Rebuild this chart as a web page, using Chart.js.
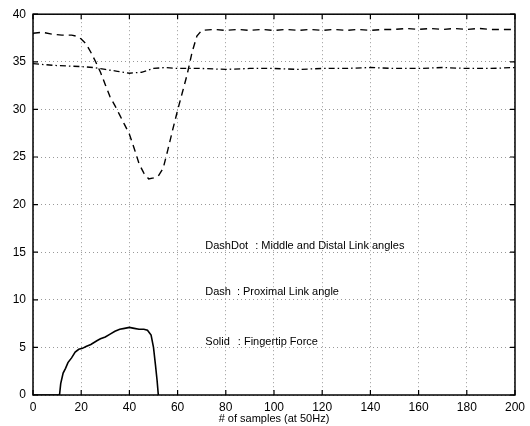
<!DOCTYPE html>
<html>
<head>
<meta charset="utf-8">
<script src="https://cdn.jsdelivr.net/npm/chart.js@4/dist/chart.umd.min.js"></script>
<style>
  html, body { margin: 0; padding: 0; background: #fff; }
  #wrap { width: 530px; height: 426px; }
</style>
</head>
<body>
<div id="wrap"><canvas id="out"></canvas></div>
<script>
// proximal link angle (dashed)
const proxX = [0, 4, 8, 12, 16, 18, 20, 22, 24, 26, 28, 30, 32, 34, 36, 38, 40, 42, 44, 46, 48, 50, 52, 54, 56, 58, 60, 62, 64, 66, 68, 70,
  75, 80, 85, 90, 95, 100, 105, 110, 115, 120, 125, 130, 135, 140, 145, 150, 155, 160, 165, 170, 175, 180, 185, 190, 195, 200];
const proxY = [38.0, 38.1, 37.9, 37.8, 37.8, 37.7, 37.4, 36.9, 36.0, 35.0, 33.9, 32.6, 31.3, 30.4, 29.4, 28.4, 27.4, 25.9, 24.3, 23.3, 22.7, 22.8, 23.0, 23.8, 25.8, 27.9, 29.9, 31.8, 33.7, 36.0, 37.7, 38.3,
  38.4, 38.3, 38.4, 38.3, 38.4, 38.3, 38.4, 38.3, 38.4, 38.3, 38.4, 38.3, 38.4, 38.3, 38.4, 38.4, 38.5, 38.4, 38.5, 38.4, 38.5, 38.4, 38.5, 38.4, 38.4, 38.4];

// middle and distal link angles (dash-dot)
const midX = [0, 10, 20, 25, 30, 35, 40, 45, 50, 55, 60, 70, 80, 90, 100, 110, 120, 130, 140, 150, 160, 170, 180, 190, 200];
const midY = [34.8, 34.6, 34.5, 34.4, 34.2, 34.0, 33.8, 33.9, 34.3, 34.4, 34.3, 34.3, 34.2, 34.3, 34.3, 34.2, 34.3, 34.3, 34.4, 34.3, 34.3, 34.4, 34.3, 34.3, 34.4];

// fingertip force (solid)
const forceX = [0, 11, 11.5, 12.5, 13.5, 14.5, 16, 17.5, 19, 20.5, 22, 24, 26.5, 28, 30, 32, 34, 36, 38, 40, 42, 44, 46, 47.5, 49, 50, 50.8, 51.5, 52];
const forceY = [0, 0, 1.2, 2.3, 2.8, 3.4, 3.9, 4.5, 4.8, 4.9, 5.1, 5.3, 5.7, 5.9, 6.1, 6.4, 6.7, 6.9, 7.0, 7.1, 7.0, 6.9, 6.9, 6.8, 6.3, 5.0, 3.2, 1.5, 0];

const xTicks = [0, 20, 40, 60, 80, 100, 120, 140, 160, 180, 200];
const yTicks = [0, 5, 10, 15, 20, 25, 30, 35, 40];

// colonX is where the ": ..." part starts, in samples
const notes = [
  { x: 71.5, y: 15.7, label: 'DashDot', colonX: 92.2, text: ': Middle and Distal Link angles' },
  { x: 71.5, y: 10.8, label: 'Dash', colonX: 84.6, text: ': Proximal Link angle' },
  { x: 71.5, y: 5.6, label: 'Solid', colonX: 85.0, text: ': Fingertip Force' }
];

const pts = (xs, ys) => xs.map((x, i) => ({ x: x, y: ys[i] }));

const FONT = "'Liberation Sans', Arial, sans-serif";

// box round the plot, inward tick marks and the notes
const decor = {
  id: 'decor',
  afterDraw(chart) {
    const { ctx, chartArea: a, scales } = chart;
    ctx.save();
    ctx.strokeStyle = '#000';
    ctx.lineWidth = 1.5;
    ctx.strokeRect(a.left, a.top, a.right - a.left, a.bottom - a.top);
    ctx.lineWidth = 1.2;
    ctx.beginPath();
    xTicks.forEach(v => {
      const px = scales.x.getPixelForValue(v);
      ctx.moveTo(px, a.bottom); ctx.lineTo(px, a.bottom - 5);
      ctx.moveTo(px, a.top); ctx.lineTo(px, a.top + 5);
    });
    yTicks.forEach(v => {
      const py = scales.y.getPixelForValue(v);
      ctx.moveTo(a.left, py); ctx.lineTo(a.left + 5, py);
      ctx.moveTo(a.right, py); ctx.lineTo(a.right - 5, py);
    });
    ctx.stroke();

    ctx.fillStyle = '#000';
    ctx.font = '11px ' + FONT;
    ctx.textBaseline = 'middle';
    notes.forEach(n => {
      const py = scales.y.getPixelForValue(n.y);
      ctx.fillText(n.label, scales.x.getPixelForValue(n.x), py);
      ctx.fillText(n.text, scales.x.getPixelForValue(n.colonX), py);
    });
    ctx.restore();
  }
};

const chartConfig = {
  type: 'line',
  data: {
    datasets: [
      {
        label: 'DashDot',
        data: pts(midX, midY),
        borderColor: '#000',
        borderWidth: 1.3,
        borderDash: [6, 3, 1.5, 3],
        pointRadius: 0,
        tension: 0
      },
      {
        label: 'Dash',
        data: pts(proxX, proxY),
        borderColor: '#000',
        borderWidth: 1.4,
        borderDash: [7, 5],
        pointRadius: 0,
        tension: 0
      },
      {
        label: 'Solid',
        data: pts(forceX, forceY),
        borderColor: '#000',
        borderWidth: 1.6,
        pointRadius: 0,
        tension: 0
      }
    ]
  },
  options: {
    responsive: true,
    maintainAspectRatio: false,
    animation: false,
    layout: { padding: { top: 10, right: 15, left: 0, bottom: 0 } },
    plugins: { legend: { display: false }, tooltip: { enabled: false } },
    scales: {
      x: {
        type: 'linear',
        min: 0,
        max: 200,
        afterBuildTicks: s => { s.ticks = xTicks.map(v => ({ value: v })); },
        afterFit: s => { s.height = 31; },
        grid: { color: '#999', lineWidth: 1, drawTicks: false },
        border: { display: false, dash: [1, 3] },
        ticks: { color: '#000', font: { family: FONT, size: 12 }, padding: 5, maxRotation: 0 },
        title: {
          display: true,
          text: '# of samples (at 50Hz)',
          color: '#000',
          font: { family: FONT, size: 11 },
          padding: { top: 0, bottom: 0 }
        }
      },
      y: {
        type: 'linear',
        min: 0,
        max: 40,
        afterBuildTicks: s => { s.ticks = yTicks.map(v => ({ value: v })); },
        afterFit: s => { s.width = 33; },
        grid: { color: '#999', lineWidth: 1, drawTicks: false },
        border: { display: false, dash: [1, 3] },
        ticks: { color: '#000', font: { family: FONT, size: 12 }, padding: 7 }
      }
    }
  },
  plugins: [decor]
};

window.chart = new Chart(document.getElementById('out').getContext('2d'), chartConfig);
</script>
</body>
</html>
